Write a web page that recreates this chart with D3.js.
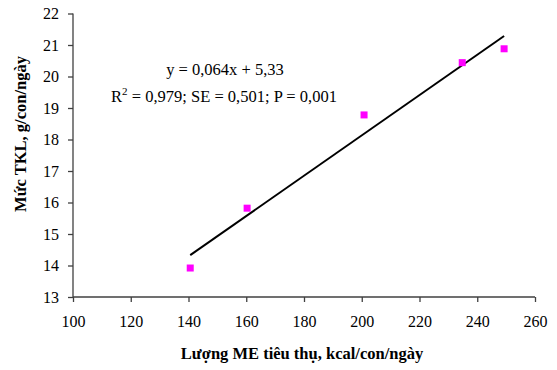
<!DOCTYPE html>
<html><head><meta charset="utf-8">
<script src="https://cdn.jsdelivr.net/npm/d3@7"></script>
<style>body{margin:0;background:#fff}svg{display:block}text{font-family:"Liberation Serif","Times New Roman",serif}</style>
</head><body><svg width="557" height="370"></svg>
<script>
const xValues = [140.6, 160.3, 200.8, 234.8, 249.3];
const yValues = [13.92, 15.82, 18.78, 20.44, 20.88];
const xTicks = [100,120,140,160,180,200,220,240,260];
const yTicks = [13,14,15,16,17,18,19,20,21,22];
const slope = 0.064, intercept = 5.33;
const eqLine1 = "y = 0,064x + 5,33";
const xTitle = "Lượng ME tiêu thụ, kcal/con/ngày";
const yTitle = "Mức TKL, g/con/ngày";

const svg = d3.select("svg");
const x = d3.scaleLinear().domain([100,260]).range([73,535]);
const y = d3.scaleLinear().domain([13,22]).range([297,13.5]);
const axisColor = "#404040";

const gx = svg.append("g").attr("transform","translate(0,297)")
  .call(d3.axisBottom(x).tickValues(xTicks).tickSize(5).tickPadding(14));
const gy = svg.append("g").attr("transform","translate(73,0)")
  .call(d3.axisLeft(y).tickValues(yTicks).tickSize(5).tickPadding(9));
[gx,gy].forEach(g=>{
  g.selectAll("path,line").attr("stroke",axisColor).attr("stroke-width",1.3);
  g.selectAll("text").attr("font-size",16).attr("fill","#000")
   .style("font-family",'"Liberation Serif","Times New Roman",serif');
});
gx.select(".domain").attr("d","M73,0H535");
gy.select(".domain").attr("d","M0,297V13.5");

const x0 = d3.min(xValues), x1 = d3.max(xValues);
svg.append("line")
  .attr("x1",x(x0)).attr("y1",y(slope*x0+intercept))
  .attr("x2",x(x1)).attr("y2",y(slope*x1+intercept))
  .attr("stroke","#000").attr("stroke-width",2);

svg.selectAll("rect.pt").data(xValues.map((v,i)=>[v,yValues[i]])).enter()
  .append("rect").attr("class","pt")
  .attr("x",d=>x(d[0])-3.5).attr("y",d=>y(d[1])-3.5)
  .attr("width",7).attr("height",7).attr("fill","#FF00FF");

svg.append("text").attr("x",225).attr("y",75).attr("text-anchor","middle")
  .attr("font-size",16.5).text(eqLine1);
const t2 = svg.append("text").attr("x",224).attr("y",102).attr("text-anchor","middle").attr("font-size",16.5);
t2.append("tspan").text("R");
t2.append("tspan").attr("dy",-7).attr("font-size",11).text("2");
t2.append("tspan").attr("dy",7).text(" = 0,979; SE = 0,501; P = 0,001");

svg.append("text").attr("x",302).attr("y",359).attr("text-anchor","middle")
  .attr("font-size",16.5).attr("font-weight","bold").text(xTitle);
svg.append("text").attr("transform","translate(26,134) rotate(-90)").attr("text-anchor","middle")
  .attr("font-size",16.5).attr("font-weight","bold").text(yTitle);
</script></body></html>
